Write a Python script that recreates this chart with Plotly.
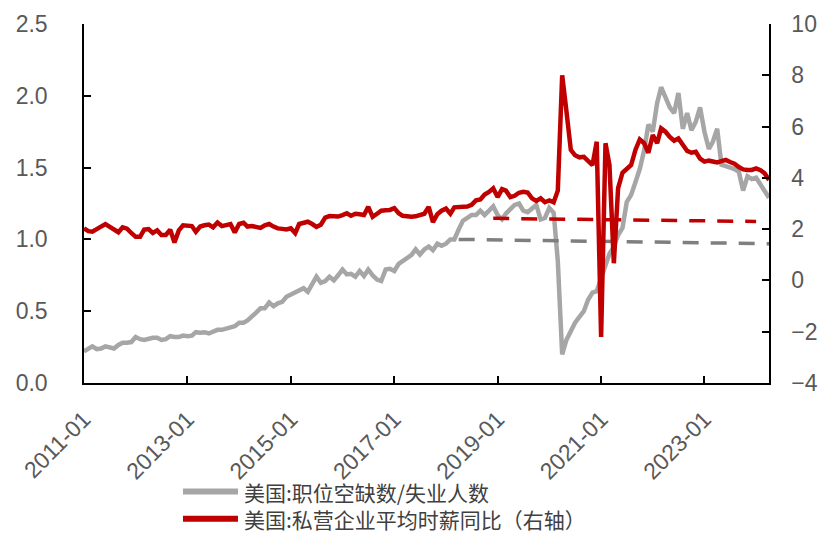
import pandas as pd
import plotly.graph_objects as go

# Monthly observations, 2011-01 .. 2024-04
months = pd.date_range("2011-01-01", periods=160, freq="MS")

# 美国: 职位空缺数 / 失业人数 (left axis)
vacancy_ratio = [
    0.22, 0.24, 0.255, 0.235, 0.24, 0.255, 0.25, 0.24, 0.265, 0.28, 0.28, 0.285,
    0.32, 0.305, 0.30, 0.31, 0.315, 0.315, 0.30, 0.305, 0.326, 0.32, 0.32, 0.33,
    0.326, 0.33, 0.354, 0.35, 0.354, 0.345, 0.36, 0.37, 0.37, 0.377, 0.385, 0.395,
    0.42, 0.42, 0.435, 0.46, 0.49, 0.52, 0.52, 0.56, 0.535, 0.555, 0.565, 0.60,
    0.615, 0.635, 0.65, 0.66, 0.635, 0.686, 0.74, 0.698, 0.71, 0.74, 0.715, 0.75,
    0.79, 0.756, 0.76, 0.74, 0.78, 0.745, 0.79, 0.75, 0.72, 0.71, 0.79, 0.795,
    0.78, 0.83, 0.85, 0.865, 0.89, 0.93, 0.895, 0.93, 0.95, 0.925, 0.97, 0.955,
    0.97, 1.0, 1.0, 1.07, 1.13, 1.15, 1.17, 1.17, 1.2, 1.17, 1.2, 1.23,
    1.17, 1.14, 1.18, 1.21, 1.24, 1.25, 1.2, 1.19, 1.22, 1.24, 1.14, 1.15,
    1.22, 1.185, 0.85, 0.2, 0.3, 0.36, 0.42, 0.46, 0.5, 0.58, 0.63, 0.64,
    0.72, 0.82, 0.9, 0.95, 1.03, 1.08, 1.26, 1.31, 1.4, 1.49, 1.62, 1.8,
    1.75, 1.95, 2.06, 1.98, 1.92, 1.88, 2.02, 1.77, 1.88, 1.76, 1.82, 1.92,
    1.75, 1.63, 1.68, 1.77, 1.52, 1.51, 1.5, 1.49, 1.47, 1.34, 1.44, 1.42,
    1.43, 1.38, 1.33, 1.29,
]

# 美国: 私营企业平均时薪同比, % (right axis)
wage_yoy = [
    2.03, 1.92, 1.90, 1.98, 2.1, 2.2, 2.1, 1.95, 1.88, 2.07, 2.02, 1.85,
    1.70, 1.70, 1.98, 2.0, 1.85, 1.95, 1.77, 1.77, 1.98, 1.48, 1.95, 2.15,
    2.15, 2.12, 1.9, 2.1, 2.15, 2.18, 2.07, 2.26, 2.12, 2.17, 2.2, 1.87,
    2.2, 2.25, 2.1, 2.12, 2.1, 2.05, 2.15, 2.2, 2.1, 2.03, 2.01, 1.99,
    2.03, 1.84, 2.2, 2.26, 2.29, 2.2, 2.09, 2.17, 2.45, 2.51, 2.51, 2.49,
    2.55, 2.62, 2.52, 2.6, 2.58, 2.55, 2.87, 2.48, 2.6, 2.72, 2.74, 2.75,
    2.82, 2.62, 2.52, 2.48, 2.48, 2.5, 2.55, 2.6, 2.87, 2.27, 2.58, 2.72,
    2.8, 2.6, 2.85, 2.87, 2.87, 2.88, 2.95, 3.12, 3.16, 3.35, 3.45, 3.59,
    3.25, 3.56, 3.5, 3.25, 3.3, 3.42, 3.46, 3.43, 3.2, 3.1, 3.2, 3.05,
    3.12, 3.05, 3.5, 8.0, 6.6, 5.09, 4.88, 4.8, 4.82, 4.65, 4.5, 5.41,
    -2.2, 5.35, 4.5, 0.67, 3.6, 4.2, 4.35, 4.5, 5.1, 5.5, 5.35, 4.98,
    5.67, 5.35, 5.93, 5.8, 5.6, 5.45, 5.54, 5.3, 5.05, 4.98, 5.02, 4.75,
    4.63, 4.67, 4.65, 4.6, 4.65, 4.7, 4.62, 4.55, 4.42, 4.33, 4.31, 4.31,
    4.37, 4.3, 4.18, 3.92,
]

# Reference levels (dashed)
ratio_ref_dates = ["2018-04-01", "2024-04-01"]
ratio_ref_values = [1.0, 0.97]
wage_ref_dates = ["2018-12-01", "2024-01-01"]
wage_ref_values = [2.42, 2.30]

series_names = ["美国:职位空缺数/失业人数", "美国:私营企业平均时薪同比（右轴）"]

left_ticks = [0.0, 0.5, 1.0, 1.5, 2.0, 2.5]
right_ticks = [-4, -2, 0, 2, 4, 6, 8, 10]
x_tick_dates = pd.date_range("2011-01-01", "2023-01-01", freq="24MS")

GRAY = "#A6A6A6"
DARK_GRAY = "#7F7F7F"
RED = "#C00000"
TICK_COLOR = "#595959"
TICK_FONT = dict(family="Liberation Sans", size=23, color=TICK_COLOR)
LEGEND_FONT = dict(family="Noto Sans CJK SC", size=21, color="#404040")

fig = go.Figure()
fig.add_trace(go.Scatter(
    x=months, y=vacancy_ratio, mode="lines", name=series_names[0],
    line=dict(color=GRAY, width=4.5), yaxis="y", showlegend=False,
))
fig.add_trace(go.Scatter(
    x=months, y=wage_yoy, mode="lines", name=series_names[1],
    line=dict(color=RED, width=4.5), yaxis="y2", showlegend=False,
))
fig.add_trace(go.Scatter(
    x=wage_ref_dates, y=wage_ref_values, mode="lines", showlegend=False,
    line=dict(color=RED, width=3.5, dash="16px,12px"), yaxis="y2",
))
fig.add_trace(go.Scatter(
    x=ratio_ref_dates, y=ratio_ref_values, mode="lines", showlegend=False,
    line=dict(color=DARK_GRAY, width=3.5, dash="16px,12px"), yaxis="y",
))

# Legend below the axis: a swatch line per series and one two-line label block
for row_y, colour in [(-0.3022, GRAY), (-0.3783, RED)]:
    fig.add_shape(
        type="line", xref="paper", yref="paper",
        x0=0.1445, x1=0.2248, y0=row_y, y1=row_y,
        line=dict(color=colour, width=6),
    )
fig.add_annotation(
    xref="paper", yref="paper", x=0.2307, y=-0.3403,
    xanchor="left", yanchor="middle", align="left",
    text="<br>".join(series_names),
    showarrow=False, font=LEGEND_FONT,
)

fig.update_layout(
    width=822, height=533,
    margin=dict(l=84, r=53, t=24, b=150, autoexpand=False),
    plot_bgcolor="white", paper_bgcolor="white",
    xaxis=dict(
        type="date", range=["2011-01-01", "2024-04-01"],
        tickvals=list(x_tick_dates), tickformat="%Y-%m", tickangle=-45,
        ticks="inside", ticklen=7, tickwidth=1.5, tickcolor="black",
        showline=True, linecolor="black", linewidth=1.5,
        showgrid=False, zeroline=False, tickfont=TICK_FONT,
        ticklabelstandoff=12,
    ),
    yaxis=dict(
        range=[0, 2.5], tickvals=left_ticks, tickformat=".1f",
        ticks="inside", ticklen=7, tickwidth=1.5, tickcolor="black",
        showline=True, linecolor="black", linewidth=1.5,
        showgrid=False, zeroline=False, tickfont=TICK_FONT,
        ticklabelstandoff=30,
    ),
    yaxis2=dict(
        range=[-4, 10], tickvals=right_ticks, overlaying="y", side="right",
        ticks="inside", ticklen=7, tickwidth=1.5, tickcolor="black",
        showline=True, linecolor="black", linewidth=1.5,
        showgrid=False, zeroline=False, tickfont=TICK_FONT,
        ticklabelstandoff=16,
    ),
)

fig.write_html("out.html")
